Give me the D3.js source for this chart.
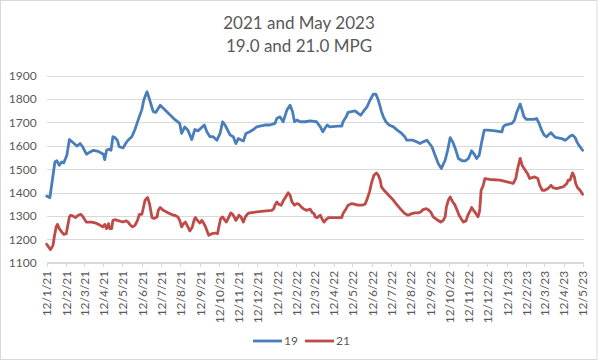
<!DOCTYPE html>
<html>
<head>
<meta charset="utf-8">
<script src="https://cdn.jsdelivr.net/npm/d3@7"></script>
<style>
  html, body { margin: 0; padding: 0; background: #fff; }
  svg { display: block; }
  text { font-family: Lato, "Open Sans", sans-serif; fill: #595959; }
</style>
</head>
<body>
<svg id="chart" width="598" height="361"></svg>
<script>
// ---- data ----
const titleLines = ["2021 and May 2023", "19.0 and 21.0 MPG"];
const startDate = "2021-01-12";           // first date on the axis
const monthCount = 28;                     // months from first to last tick
const tickLabels = ["12/1/21","12/2/21","12/3/21","12/4/21","12/5/21","12/6/21","12/7/21","12/8/21","12/9/21","12/10/21","12/11/21","12/12/21",
  "12/1/22","12/2/22","12/3/22","12/4/22","12/5/22","12/6/22","12/7/22","12/8/22","12/9/22","12/10/22","12/11/22","12/12/22",
  "12/1/23","12/2/23","12/3/23","12/4/23","12/5/23"];
const yTicks = [1100, 1200, 1300, 1400, 1500, 1600, 1700, 1800, 1900];
const seriesNames = ["19", "21"];

// days since startDate
const days19 = [0,5,13,16,20,24,27,32,36,42,48,53,57,63,69,74,82,90,92,95,99,102,105,108,112,115,121,126,129,135,
  140,145,151,154,159,161,165,169,173,180,193,203,211,214,219,224,230,235,240,250,254,259,264,270,275,279,283,287,291,296,
  300,304,309,312,316,322,328,333,338,346,354,362,365,370,375,381,386,390,393,397,402,410,418,428,434,438,441,445,449,462,
  468,470,475,478,489,494,498,502,508,513,518,522,526,529,531,534,538,543,550,556,563,568,571,581,587,592,597,603,607,611,
  616,621,626,632,636,640,644,648,653,659,664,669,674,679,682,686,690,694,700,711,722,724,727,738,742,745,748,751,754,757,
  761,772,777,781,785,789,793,797,800,803,807,817,822,826,830,834,838,841,844,850];
const mpg19 = [1385,1378,1531,1536,1517,1531,1527,1560,1627,1613,1599,1610,1596,1564,1574,1581,1576,1564,1541,1581,
  1586,1581,1639,1636,1624,1596,1591,1613,1624,1639,1670,1710,1756,1796,1831,1817,1781,1746,1743,1774,
  1739,1713,1696,1653,1681,1667,1627,1670,1664,1689,1660,1639,1639,1624,1653,1703,1689,1667,1646,1639,
  1610,1631,1624,1621,1653,1660,1670,1681,1684,1689,1689,1696,1717,1724,1703,1753,1774,1746,1703,1710,
  1703,1703,1707,1703,1681,1660,1674,1689,1681,1684,1684,1703,1724,1743,1749,1739,1731,1746,1767,1796,
  1821,1821,1796,1767,1746,1724,1703,1689,1681,1667,1653,1639,1624,1624,1617,1610,1617,1624,1610,1596,
  1560,1524,1503,1539,1581,1635,1617,1589,1546,1536,1536,1546,1579,1560,1546,1560,1617,1667,1667,1664,
  1660,1681,1689,1696,1710,1739,1760,1779,1753,1724,1713,1713,1717,1696,1667,1646,1639,1650,1656,1646,
  1636,1631,1624,1631,1641,1646,1636,1617,1603,1581];

const days21 = [0,3,6,10,12,15,17,20,24,27,31,33,36,38,42,46,50,54,57,61,63,71,77,80,85,89,92,95,98,100,
  103,105,108,112,121,126,129,133,136,140,144,147,151,153,156,160,163,167,170,175,177,180,185,193,201,203,208,211,214,217,
  220,224,227,231,234,236,239,243,246,248,252,255,257,262,267,271,273,276,279,282,285,289,292,294,298,300,303,305,308,312,
  315,319,322,333,344,357,360,362,365,368,372,375,379,383,386,389,393,397,400,403,407,412,418,421,424,426,429,434,438,440,
  443,447,468,470,475,478,484,494,500,505,508,512,515,519,523,526,529,531,535,540,544,550,556,563,568,573,579,584,589,593,
  597,602,605,609,613,619,625,629,632,634,637,640,644,647,651,654,659,661,665,668,672,674,677,681,684,686,687,689,692,695,
  703,719,730,740,744,747,751,754,759,763,766,770,774,779,782,786,790,795,800,803,809,814,819,825,827,830,834,837,839,842,
  846,850];
const mpg21 = [1179,1167,1156,1174,1210,1253,1264,1246,1231,1221,1224,1253,1296,1303,1299,1293,1303,1307,1299,1281,
  1274,1274,1270,1267,1260,1253,1264,1246,1267,1246,1246,1281,1284,1281,1274,1279,1274,1260,1253,1260,
  1281,1307,1307,1331,1367,1379,1353,1293,1289,1296,1324,1336,1324,1313,1303,1303,1296,1281,1253,1267,
  1274,1253,1236,1253,1284,1293,1281,1270,1281,1274,1253,1231,1217,1224,1227,1224,1253,1289,1296,1284,
  1274,1296,1313,1310,1293,1281,1293,1303,1296,1274,1296,1310,1313,1317,1321,1324,1331,1346,1360,1350,
  1346,1364,1381,1399,1389,1360,1346,1353,1350,1341,1331,1324,1329,1315,1310,1296,1293,1303,1281,1274,
  1284,1293,1293,1310,1331,1346,1353,1346,1346,1350,1370,1403,1439,1474,1484,1474,1453,1424,1410,1396,
  1384,1367,1346,1324,1310,1303,1310,1313,1313,1317,1327,1331,1327,1317,1296,1284,1274,1281,1296,1339,
  1367,1381,1360,1350,1324,1303,1281,1274,1279,1303,1324,1336,1324,1310,1296,1313,1331,1410,1427,1460,
  1456,1453,1446,1439,1460,1503,1546,1517,1496,1479,1460,1464,1467,1460,1431,1410,1410,1417,1431,1421,
  1417,1421,1424,1439,1453,1453,1484,1467,1439,1421,1410,1393];

// ---- layout ----
const W = 598, H = 361;
const plot = { left: 46.7, right: 582.6, top: 75.7, bottom: 262.7 };
const colors = { "19": "#4A7EBB", "21": "#BE4B48" };

const svg = d3.select("#chart");
const t0 = d3.utcParse("%Y-%m-%d")(startDate);
const t1 = d3.utcMonth.offset(t0, monthCount);

const x = d3.scaleUtc().domain([t0, t1]).range([plot.left, plot.right]);
const y = d3.scaleLinear().domain([1100, 1900]).range([plot.bottom, plot.top]);

// border
svg.append("rect").attr("x", 0.5).attr("y", 0.5).attr("width", W - 1.5).attr("height", 359)
  .attr("fill", "#fff").attr("stroke", "#d9d9d9").attr("stroke-width", 1);

// title
svg.append("g").selectAll("text").data(titleLines).join("text")
  .attr("x", 299).attr("y", (d, i) => 29 + i * 23)
  .attr("text-anchor", "middle").style("font-size", "17px").text(d => d);

// y grid + labels
const yAxis = d3.axisLeft(y).tickValues(yTicks).tickFormat(d3.format("d"))
  .tickSize(-(plot.right + 1 - plot.left)).tickPadding(10);
const gy = svg.append("g").attr("transform", `translate(${plot.left},0)`).call(yAxis);
gy.select(".domain").remove();
gy.selectAll(".tick line").attr("stroke", "#d9d9d9").attr("shape-rendering", "crispEdges");
gy.selectAll(".tick text").style("font-size", "12px").style("font-family", "Lato, sans-serif").attr("fill", "#595959");

// x axis
const tickDates = tickLabels.map((_, i) => d3.utcMonth.offset(t0, i));
const xAxis = d3.axisBottom(x).tickValues(tickDates).tickSize(4)
  .tickFormat((d, i) => tickLabels[i]);
const gx = svg.append("g").attr("transform", `translate(0,${plot.bottom})`).call(xAxis);
gx.select(".domain").attr("stroke", "#d9d9d9").attr("d", `M${plot.left},0H${plot.right + 1}`).attr("shape-rendering", "crispEdges");
gx.selectAll(".tick line").attr("stroke", "#d9d9d9").attr("shape-rendering", "crispEdges");
gx.selectAll(".tick text")
  .style("font-size", "12px").style("font-family", "Lato, sans-serif").attr("fill", "#595959")
  .attr("text-anchor", "end")
  .attr("transform", "rotate(-90)")
  .attr("x", -8).attr("y", 0).attr("dy", "0.35em");

// lines
const series = [
  { name: "19", pts: days19.map((d, i) => ({ t: d3.utcDay.offset(t0, d), v: mpg19[i] })) },
  { name: "21", pts: days21.map((d, i) => ({ t: d3.utcDay.offset(t0, d), v: mpg21[i] })) }
];
const line = d3.line().x(d => x(d.t)).y(d => y(d.v));
svg.append("g").selectAll("path").data(series).join("path")
  .attr("d", s => line(s.pts))
  .attr("fill", "none")
  .attr("stroke", s => colors[s.name])
  .attr("stroke-width", 2.8)
  .attr("stroke-linejoin", "round")
  .attr("stroke-linecap", "round");

// legend
const legendX = [253, 305];
const lg = svg.append("g").selectAll("g").data(seriesNames).join("g")
  .attr("transform", (d, i) => `translate(${legendX[i]},341)`);
lg.append("line").attr("x1", 0).attr("x2", 29).attr("y1", 0).attr("y2", 0)
  .attr("stroke", d => colors[d]).attr("stroke-width", 2.8);
lg.append("text").attr("x", 31).attr("y", 0).attr("dy", "0.35em")
  .style("font-size", "12px").text(d => d);
</script>
</body>
</html>
